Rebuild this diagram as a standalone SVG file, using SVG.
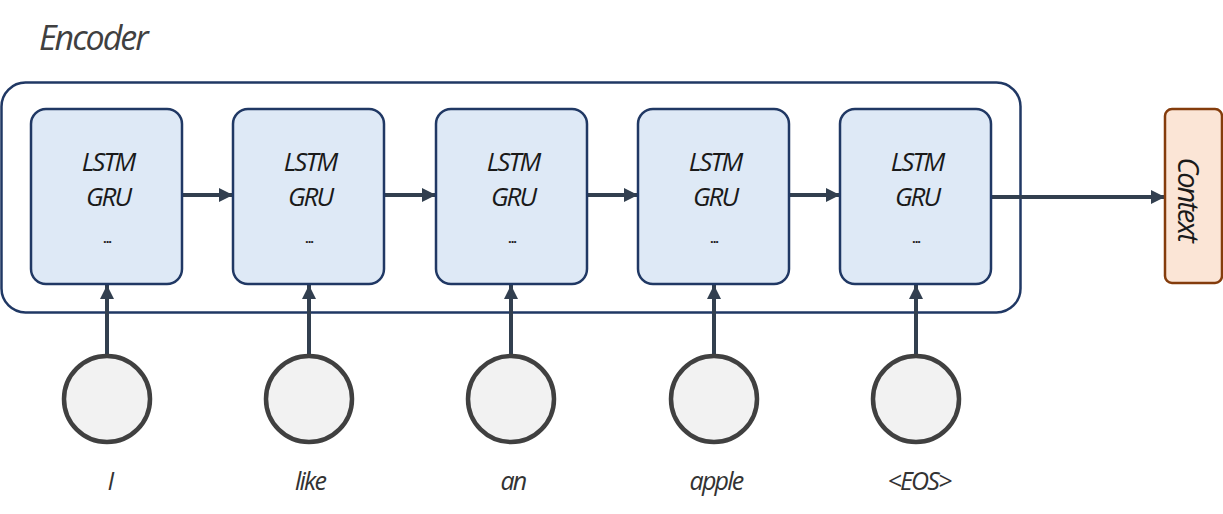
<svg xmlns="http://www.w3.org/2000/svg" width="1223" height="514" viewBox="0 0 1223 514">
<style>
.t{font-family:"Open Sans","Liberation Sans",sans-serif;font-style:italic;fill:#1a1a1a;text-anchor:middle;letter-spacing:-2px}
.dots{font-family:"Open Sans","Liberation Sans",sans-serif;font-weight:700;fill:#1a1a1a;text-anchor:middle;font-size:13px;letter-spacing:-1px}
.cell{fill:#dee9f6;stroke:#203864;stroke-width:2.5}
.tok{fill:#f2f2f2;stroke:#404040;stroke-width:4.5}
.ar{stroke:#323f4f;stroke-width:4;fill:none;marker-end:url(#ah)}
.lbl{font-family:"Open Sans","Liberation Sans",sans-serif;font-style:italic;fill:#333;text-anchor:middle;font-size:25px;letter-spacing:-1.8px}
</style>
<defs>
<marker id="ah" viewBox="0 0 10 10" refX="10" refY="5" markerWidth="3.5" markerHeight="3.8" orient="auto" markerUnits="strokeWidth">
<path d="M0,0 L10,5 L0,10 z" fill="#323f4f"/>
</marker>
</defs>
<text x="39" y="50" style="font-family:'Open Sans','Liberation Sans',sans-serif;font-style:italic;font-size:34px;fill:#404040;letter-spacing:-2px">Encoder</text>
<g id="encoder"><rect x="1.5" y="82.5" width="1019" height="230" rx="24" fill="none" stroke="#203864" stroke-width="2.5"/></g>
<g id="connectors">
<line class="ar" x1="182" y1="195" x2="233" y2="195"/>
<line class="ar" x1="384" y1="195" x2="436" y2="195"/>
<line class="ar" x1="587" y1="195" x2="638" y2="195"/>
<line class="ar" x1="789" y1="195" x2="840" y2="195"/>
<line class="ar" x1="991" y1="197" x2="1165" y2="197"/>
<line class="ar" x1="107" y1="355" x2="107" y2="285"/>
<line class="ar" x1="309" y1="355" x2="309" y2="285"/>
<line class="ar" x1="511" y1="355" x2="511" y2="285"/>
<line class="ar" x1="714" y1="355" x2="714" y2="285"/>
<line class="ar" x1="916" y1="355" x2="916" y2="285"/>
</g>
<g id="cell1"><rect class="cell" x="31" y="109" width="151" height="175" rx="15"/><text class="t" x="108" y="171" font-size="26">LSTM</text><text class="t" x="108" y="206" font-size="26">GRU</text><text class="dots" x="107" y="243">...</text></g>
<g id="cell2"><rect class="cell" x="233" y="109" width="151" height="175" rx="15"/><text class="t" x="310" y="171" font-size="26">LSTM</text><text class="t" x="310" y="206" font-size="26">GRU</text><text class="dots" x="309" y="243">...</text></g>
<g id="cell3"><rect class="cell" x="436" y="109" width="151" height="175" rx="15"/><text class="t" x="513" y="171" font-size="26">LSTM</text><text class="t" x="513" y="206" font-size="26">GRU</text><text class="dots" x="512" y="243">...</text></g>
<g id="cell4"><rect class="cell" x="638" y="109" width="151" height="175" rx="15"/><text class="t" x="715" y="171" font-size="26">LSTM</text><text class="t" x="715" y="206" font-size="26">GRU</text><text class="dots" x="714" y="243">...</text></g>
<g id="cell5"><rect class="cell" x="840" y="109" width="151" height="175" rx="15"/><text class="t" x="917" y="171" font-size="26">LSTM</text><text class="t" x="917" y="206" font-size="26">GRU</text><text class="dots" x="916" y="243">...</text></g>
<g id="context"><rect x="1165" y="109" width="57" height="174" rx="7" fill="#fbe5d6" stroke="#843c0c" stroke-width="2.5"/><text class="t" transform="translate(1178,199) rotate(90)" x="0" y="0" font-size="29">Context</text></g>
<g id="tok1"><circle class="tok" cx="107" cy="399" r="43"/><text class="lbl" x="110" y="490">I</text></g>
<g id="tok2"><circle class="tok" cx="309" cy="399" r="43"/><text class="lbl" x="310" y="490">like</text></g>
<g id="tok3"><circle class="tok" cx="511" cy="399" r="43"/><text class="lbl" x="513" y="490">an</text></g>
<g id="tok4"><circle class="tok" cx="714" cy="399" r="43"/><text class="lbl" x="716" y="490">apple</text></g>
<g id="tok5"><circle class="tok" cx="916" cy="399" r="43"/><text class="lbl" x="919" y="490">&lt;EOS&gt;</text></g>
</svg>
